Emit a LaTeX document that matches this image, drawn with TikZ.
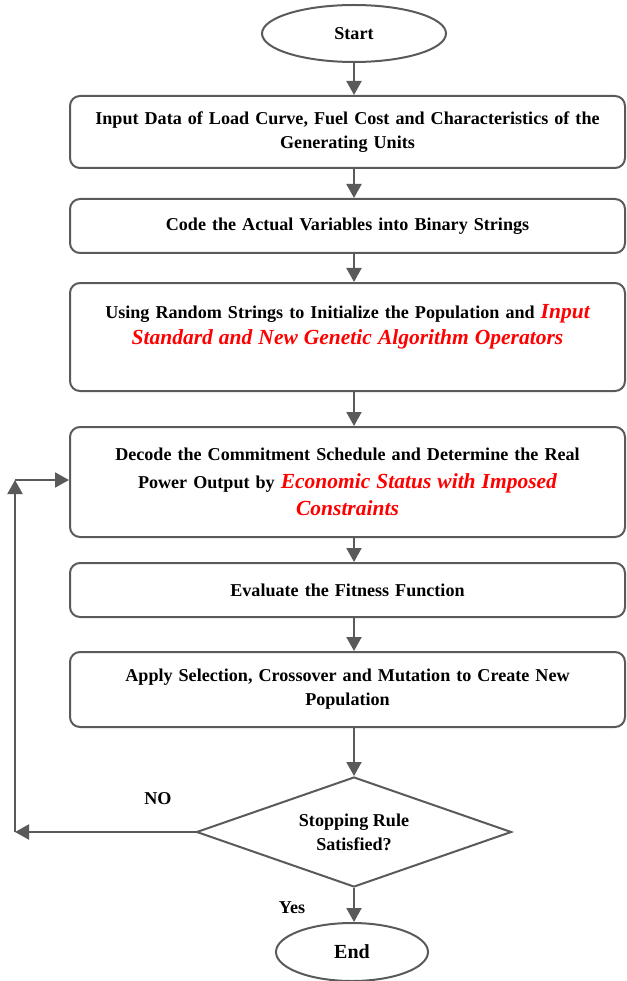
\documentclass[tikz,border=0pt]{standalone}
\usepackage{fontspec}
\setmainfont{Liberation Serif}
\usetikzlibrary{shapes.geometric,arrows.meta}
\definecolor{lc}{HTML}{5A5A5A}
\definecolor{rd}{HTML}{FF0000}
\newcommand\bfnt[1]{\fontsize{18.1}{#1}\selectfont\bfseries}
\newcommand\rtxt[1]{{\fontsize{21.5}{26}\selectfont\bfseries\itshape\color{rd}#1}}
\begin{document}
\begin{tikzpicture}[x=1pt,y=1pt,
  flow/.style={draw=lc, line width=2pt, rounded corners=10pt, text width=541pt,
    inner xsep=7pt, inner ysep=0pt, align=center},
  term/.style={ellipse, draw=lc, line width=2pt, inner sep=0pt, font=\bfnt{24}},
  arr/.style={draw=lc, line width=2pt, -{Triangle[width=15pt,length=14pt]}},
  lbl/.style={font=\bfnt{24}, inner sep=0pt}]
\useasboundingbox (0,0) rectangle (626,-981);

\node[term, minimum width=184pt, minimum height=57pt] (start) at (354,-33.5) {Start};

\node[flow, minimum height=72pt, font=\bfnt{24}] (b1) at (347.5,-132)
  {Input Data of Load Curve, Fuel Cost and Characteristics of the\\Generating Units};
\node[flow, minimum height=54pt, font=\bfnt{24}] (b2) at (347.5,-226)
  {Code the Actual Variables into Binary Strings};
\node[flow, minimum height=108pt, font=\bfnt{26}] (b3) at (347.5,-337)
  {Using Random Strings to Initialize the Population and \rtxt{Input}\\
   \rtxt{Standard and New Genetic Algorithm Operators}\\ \mbox{}};
\node[flow, minimum height=110pt, font=\bfnt{27.5}] (b4) at (347.5,-482)
  {Decode the Commitment Schedule and Determine the Real\\
   Power Output by \rtxt{Economic Status with Imposed}\\
   \rtxt{Constraints}};
\node[flow, minimum height=54pt, font=\bfnt{24}] (b5) at (347.5,-590)
  {Evaluate the Fitness Function};
\node[flow, minimum height=75pt, font=\bfnt{24}] (b6) at (347.5,-689.5)
  {Apply Selection, Crossover and Mutation to Create New\\Population};

\node[diamond, draw=lc, line width=2pt, inner sep=0pt, aspect=2.8,
  minimum width=315pt, minimum height=110pt, align=center, font=\bfnt{24}]
  (dia) at (354,-832) {Stopping Rule\\Satisfied?};

\node[term, minimum width=152pt, minimum height=58pt, font=\fontsize{20}{24}\selectfont\bfseries] (end) at (352,-952) {End};

\draw[arr] (start.south) -- (start.south |- b1.north);
\draw[arr] (start.south |- b1.south) -- (start.south |- b2.north);
\draw[arr] (start.south |- b2.south) -- (start.south |- b3.north);
\draw[arr] (start.south |- b3.south) -- (start.south |- b4.north);
\draw[arr] (start.south |- b4.south) -- (start.south |- b5.north);
\draw[arr] (start.south |- b5.south) -- (start.south |- b6.north);
\draw[arr] (dia.north |- b6.south) -- (dia.north);
\draw[arr] (dia.south) -- (dia.south |- end.north);

\coordinate (lb) at (15,-832);
\coordinate (lt) at (15,-480);
\draw[arr] (dia.west) -- (lb);
\draw[arr] (lb) -- (lt);
\draw[arr] (lt) -- (lt -| b4.west);

\node[lbl] (no) at (158,-799) {NO};
\node[lbl] (yes) at (292,-908) {Yes};
\end{tikzpicture}
\end{document}
